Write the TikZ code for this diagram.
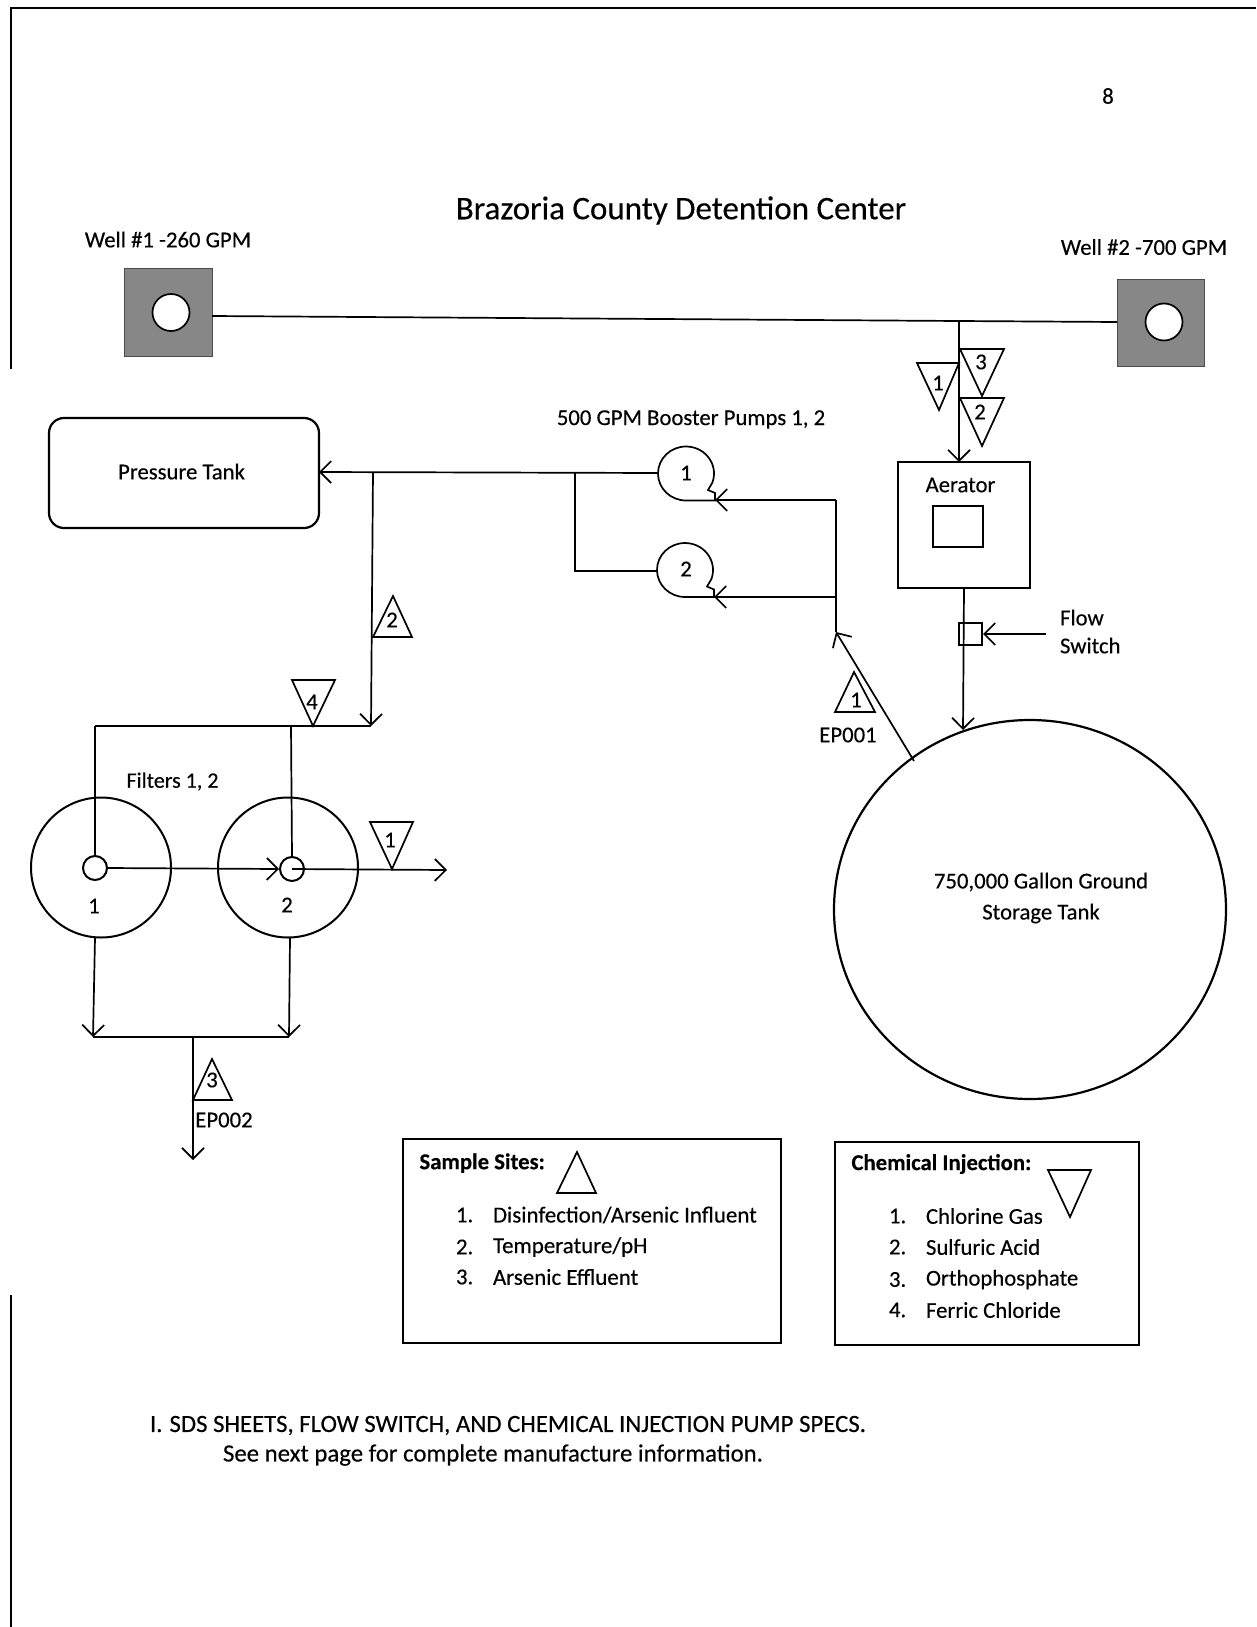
\documentclass[tikz,border=0pt]{standalone}
\usepackage{fontspec}
\setmainfont{Carlito}[FakeBold=0.3]
\usetikzlibrary{arrows.meta,shapes.geometric}
\newcommand{\fsz}[1]{\fontsize{#1}{#1}\selectfont}
\tikzset{
 x=1pt,y=-1pt,
 ln/.style={line width=1.7pt,black,line join=miter},
 pipe/.style={ln},
 flow/.style={ln,-{Straight Barb[length=11pt,width=22pt,line width=1.7pt]}},
 lbl/.style={inner sep=0pt,outer sep=0pt,font=\fsz{22.7}},
 lblw/.style={lbl,anchor=west},
 lblb/.style={lblw,font=\fsz{22.7}\bfseries},
 wellbox/.style={rectangle,draw=black!70,line width=1pt,fill=black!47,inner sep=0pt},
 wellhole/.style={circle,draw=black,line width=1.7pt,fill=white,inner sep=0pt,minimum size=37pt},
 port/.style={circle,draw=black,line width=2pt,inner sep=0pt,minimum size=24pt},
 filt/.style={circle,draw=black,line width=2pt,inner sep=0pt,minimum size=140pt},
 tri/.style={ln,line join=miter},
 boxx/.style={rectangle,draw=black,line width=2pt,inner sep=0pt},
}
\begin{document}
\begin{tikzpicture}
\useasboundingbox (0,0) rectangle (1256,1627);
\fill[white] (0,0) rectangle (1256,1627);
% page edge
\coordinate (ptl) at (11,8);
\coordinate (ptr) at (1256,8);
\coordinate (plm) at (11,369);
\coordinate (plb) at (11,1295);
\coordinate (plz) at (11,1627);
\draw[line width=1.4pt] (plm) -- (ptl) -- (ptr);
\draw[line width=1.4pt] (plb) -- (plz);

% texts
\node[lbl] (pg) at (1108,96) {8};
\node[lbl,font=\fsz{33}] (title) at (681,210.5) {Brazoria County Detention Center};
\node[lbl] (w1t) at (168,239.5) {Well \#1 -260 GPM};
\node[lbl] (w2t) at (1144,247) {Well \#2 -700 GPM};
\node[lbl] (bp) at (691,419.5) {500 GPM Booster Pumps 1, 2};

% wells
\node[wellbox,minimum width=88pt,minimum height=88pt] (well1) at (168,312) {};
\node[wellhole] (h1) at (171,312.5) {};
\node[wellbox,minimum width=87pt,minimum height=87pt] (well2) at (1160.5,322.5) {};
\node[wellhole] (h2) at (1164,322) {};
\coordinate (w1o) at (212,316);
\coordinate (jw) at (959,321);
\coordinate (w2o) at (1117,322);
\draw[pipe] (w1o) -- (jw) -- (w2o);

% aerator
\node[boxx,minimum width=132pt,minimum height=126pt] (aer) at (964,525) {};
\node[boxx,minimum width=50pt,minimum height=41pt] (aerin) at (958,526.5) {};
\node[lbl] (aert) at (960.5,485) {Aerator};
\coordinate (aertop) at (959,462);
\draw[flow] (jw) -- (aertop);

% storage tank
\node[ellipse,draw=black,line width=2.2pt,inner sep=0pt,minimum width=392pt,minimum height=379pt] (tank) at (1030,909.5) {};
\node[lbl] (tt1) at (1041,882) {750,000 Gallon Ground};
\node[lbl] (tt2) at (1041,913.5) {Storage Tank};

% flow switch
\node[boxx,minimum width=23pt,minimum height=22pt,line width=2pt] (fs) at (970.5,634) {};
\coordinate (aerout) at (964,588);
\coordinate (tanktop) at (963,730);
\draw[flow] (aerout) -- (tanktop);
\coordinate (fsrc) at (1046,634);
\draw[flow] (fsrc) -- (fs.east);
\node[lblw] (fl1) at (1060,617.5) {Flow};
\node[lblw] (fl2) at (1060,645.5) {Switch};

% triangles on aerator line
\draw[tri] (917,363) -- (959,363) -- (939,410) -- cycle;
\node[lbl] (c1a) at (938,383) {1};
\draw[tri] (960,349) -- (1004,349) -- (982,396) -- cycle;
\node[lbl] (c3) at (981,362) {3};
\draw[tri] (960,398) -- (1004,398) -- (982,446) -- cycle;
\node[lbl] (c2) at (980,412) {2};

% pumps
\draw[ln] (686,500.5) arc[start angle=-90,end angle=-380,x radius=28pt,y radius=27pt] -- (708,490) -- (715,493) -- (715,500.5) -- cycle;
\node[lbl] (p1) at (686,473) {1};
\draw[ln] (685,597) arc[start angle=-90,end angle=-380,x radius=28pt,y radius=27pt] -- (707,586.5) -- (714,589.5) -- (714,597) -- cycle;
\node[lbl] (p2) at (686,569) {2};
\coordinate (p1in) at (658,473);
\coordinate (p2in) at (657,571);
\coordinate (p1out) at (715,500);
\coordinate (p2out) at (714,597);
\coordinate (j1) at (836,500);
\coordinate (j2) at (836,597);
\coordinate (j3) at (836,632);
\coordinate (tankout) at (914,761);
\draw[pipe] (j1) -- (j3);
\draw[flow] (j1) -- (p1out);
\draw[flow] (j2) -- (p2out);
\draw[flow] (tankout) -- (j3);
\draw[tri] (854,672) -- (875,712) -- (835,712) -- cycle;
\node[lbl] (s1) at (856,700) {1};
\node[lbl] (ep1) at (848,735) {EP001};

% pressure tank
\node[rectangle,rounded corners=15pt,draw=black,line width=2.2pt,inner sep=0pt,minimum width=270pt,minimum height=110pt] (pt) at (184,473) {};
\node[lbl] (ptt) at (181.5,471.5) {Pressure Tank};
\coordinate (jb) at (575,472);
\coordinate (jb2) at (575,571);
\coordinate (jf) at (373,472);
\coordinate (ptin) at (319,472);
\draw[flow] (p1in) -- (ptin);
\draw[pipe] (jb) -- (jb2) -- (p2in);
\coordinate (hdrR) at (371,726);
\coordinate (hdrL) at (95,726);
\coordinate (hdrM) at (291,726);
\draw[flow] (jf) -- (hdrR);
\draw[pipe] (hdrR) -- (hdrL);
\draw[tri] (393,596) -- (412,637) -- (373,637) -- cycle;
\node[lbl] (s2) at (392,620) {2};
\draw[tri] (292,680) -- (335,680) -- (313,726) -- cycle;
\node[lbl] (c4) at (312,702) {4};

% filters
\node[filt] (f1) at (101,867.5) {};
\node[filt] (f2) at (288,867.5) {};
\node[port] (sp1) at (95,868) {};
\node[port] (sp2) at (292,869) {};
\node[lbl] (f1t) at (94,906) {1};
\node[lbl] (f2t) at (287,905) {2};
\node[lbl,font=\fsz{22}] (ft) at (172.5,781.5) {Filters 1, 2};
\draw[pipe] (hdrL) -- (sp1.north);
\draw[pipe] (hdrM) -- (sp2.north);
\draw[flow] (sp1.east) -- (sp2.west);
\coordinate (outr) at (447,870);
\draw[flow] (sp2.center) -- (outr);
\draw[tri] (370,822) -- (413,822) -- (392,869) -- cycle;
\node[lbl] (c1b) at (390,840) {1};
\coordinate (f1b) at (95,938);
\coordinate (f2b) at (290,938);
\coordinate (dL) at (93,1037);
\coordinate (dR) at (289,1037);
\draw[flow] (f1b) -- (dL);
\draw[flow] (f2b) -- (dR);
\draw[pipe] (dL) -- (dR);
\coordinate (dM) at (193,1037);
\coordinate (dO) at (193,1160);
\draw[flow] (dM) -- (dO);
\draw[tri] (212,1059) -- (232,1100) -- (193,1100) -- cycle;
\node[lbl] (s3) at (212,1080) {3};
\node[lbl] (ep2) at (224,1120) {EP002};

% legend: sample
\node[boxx,minimum width=378pt,minimum height=204pt] (lg1) at (592,1241) {};
\node[lblb] (lg1t) at (419.5,1163) {Sample Sites:};
\draw[tri] (577,1152) -- (596,1193) -- (557,1193) -- cycle;
\node[lblw] (a1) at (456,1215) {1.};
\node[lblw,font=\fsz{22.9}] (a1t) at (493,1215) {Disinfection/Arsenic Influent};
\node[lblw] (a2) at (456,1247) {2.};
\node[lblw,font=\fsz{22.9}] (a2t) at (493,1247) {Temperature/pH};
\node[lblw] (a3) at (456,1277) {3.};
\node[lblw,font=\fsz{22.9}] (a3t) at (493,1277) {Arsenic Effluent};

% legend: chemical
\node[boxx,minimum width=304pt,minimum height=203pt] (lg2) at (986.5,1243.5) {};
\node[lblb] (lg2t) at (851.5,1164) {Chemical Injection:};
\draw[tri] (1048,1170) -- (1091,1170) -- (1070,1217) -- cycle;
\node[lblw] (b1) at (889,1216) {1.};
\node[lblw] (b1t) at (926,1216) {Chlorine Gas};
\node[lblw] (b2) at (889,1247) {2.};
\node[lblw] (b2t) at (926,1247) {Sulfuric Acid};
\node[lblw] (b3) at (889,1279.5) {3.};
\node[lblw] (b3t) at (926,1279.5) {Orthophosphate};
\node[lblw] (b4) at (889,1310) {4.};
\node[lblw] (b4t) at (926,1310) {Ferric Chloride};

% footer
\node[lblw,font=\fsz{24.8}] (foot1) at (150,1425.5) {I.\hspace{7pt}SDS SHEETS, FLOW SWITCH, AND CHEMICAL INJECTION PUMP SPECS.};
\node[lblw,font=\fsz{24.8}] (foot2) at (223,1455) {See next page for complete manufacture information.};
\end{tikzpicture}
\end{document}
